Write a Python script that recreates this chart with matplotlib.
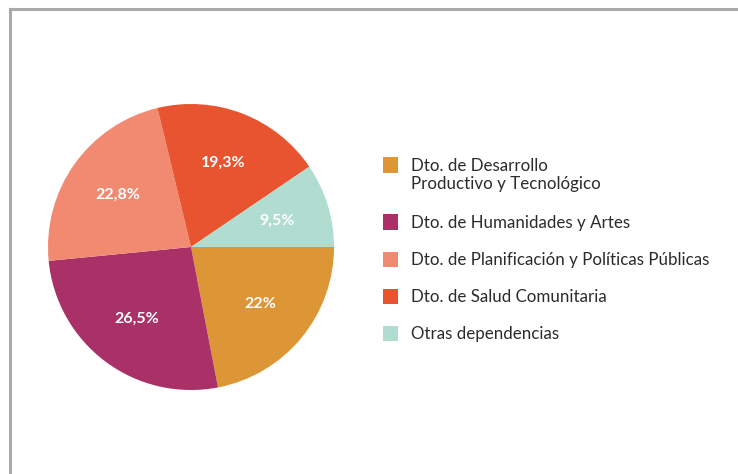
import matplotlib.pyplot as plt
from matplotlib.patches import Rectangle
from matplotlib.lines import Line2D

# data, clockwise from 3 o'clock
categories = ['Dto. de Desarrollo\nProductivo y Tecnológico',
              'Dto. de Humanidades y Artes',
              'Dto. de Planificación y Políticas Públicas',
              'Dto. de Salud Comunitaria',
              'Otras dependencias']
values = [22, 26.5, 22.8, 19.3, 9.5]
colors = ['#DD9636', '#A93168', '#F28A72', '#E8542F', '#B0DDCF']

W, H = 738, 474
fig = plt.figure(figsize=(W / 100, H / 100), dpi=100)

# pie axes: centre (191, 247) px, radius 143 px
cx, cy, r = 191, 247, 143
ax = fig.add_axes([(cx - r) / W, (H - cy - r) / H, 2 * r / W, 2 * r / H])
pct_labels = [f'{v:g}'.replace('.', ',') + '%' for v in values]
wedges, texts = ax.pie(values, colors=colors, startangle=0, counterclock=False,
                       labels=pct_labels, labeldistance=0.63, radius=1,
                       textprops=dict(color='white', fontsize=11.5,
                                      fontweight='bold', family='Lato'))
for t in texts:
    t.set_ha('center')
    t.set_va('center')
ax.set_xlim(-1, 1)
ax.set_ylim(-1, 1)
ax.set_aspect('equal')
ax.axis('off')

# legend drawn by hand so the square lines up with the first text line
sq = 15
for i, (lab, col) in enumerate(zip(categories, colors)):
    y = 165 + 37 * i + (20 if i > 0 else 0)
    fig.add_artist(Rectangle((383 / W, (H - y - sq / 2) / H), sq / W, sq / H,
                             transform=fig.transFigure, color=col, lw=0))
    fig.text(411 / W, (H - y + 7) / H, lab, fontsize=12.2, family='Lato',
             color='#2b2b2b', va='top', ha='left', linespacing=1.17)

# grey frame (top and left edges visible)
frame = dict(color='#A9A9AB', lw=2.2, transform=fig.transFigure)
fig.add_artist(Line2D([10 / W, 1.0], [(H - 9) / H, (H - 9) / H], **frame))
fig.add_artist(Line2D([10 / W, 10 / W], [0, (H - 9) / H], **frame))

fig.savefig('out.png', dpi=100)
